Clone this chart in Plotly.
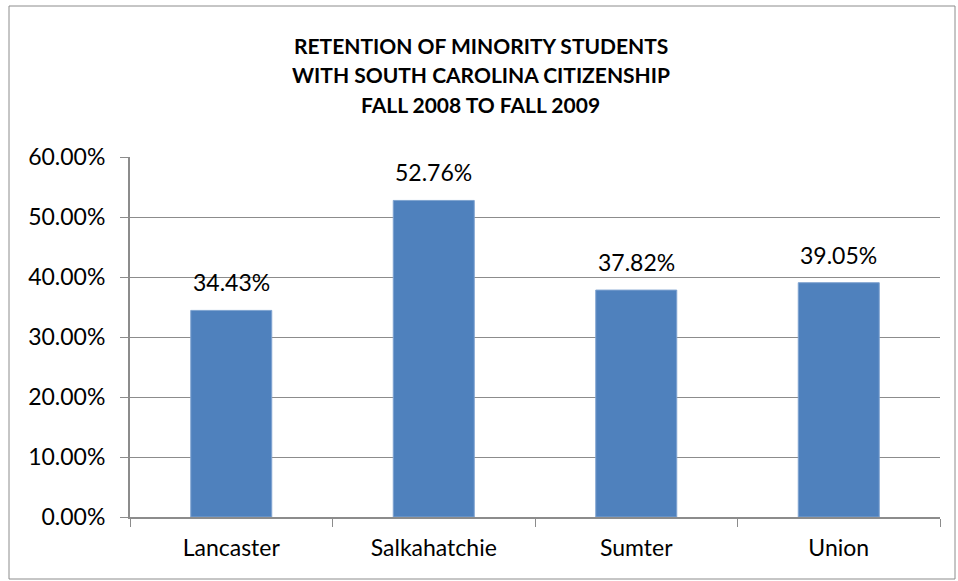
import plotly.graph_objects as go

campuses = ["Lancaster", "Salkahatchie", "Sumter", "Union"]
retention = [0.3443, 0.5276, 0.3782, 0.3905]
y_ticks = [0, 0.1, 0.2, 0.3, 0.4, 0.5, 0.6]

title_lines = [
    "RETENTION OF MINORITY STUDENTS",
    "WITH SOUTH CAROLINA CITIZENSHIP",
    "FALL 2008 TO FALL 2009",
]

font_name = "Lato, Liberation Sans, sans-serif"
grey = "#8C8C8C"

fig = go.Figure(
    go.Bar(
        x=campuses,
        y=retention,
        marker=dict(color="#4F81BD", line=dict(color="#7FA3D0", width=1)),
    )
)

fig.update_layout(
    width=958,
    height=581,
    paper_bgcolor="white",
    plot_bgcolor="white",
    margin=dict(l=130, r=18, t=157, b=64),
    bargap=0.6,
    showlegend=False,
    font=dict(family=font_name, color="#000000"),
)

# data labels above the bars
for name, val in zip(campuses, retention):
    fig.add_annotation(
        x=name,
        y=val,
        text=f"{val:.2%}",
        yanchor="bottom",
        yshift=12,
        showarrow=False,
        font=dict(size=23, color="#000000"),
    )

# title lines, one annotation each
for i, line in enumerate(title_lines):
    fig.add_annotation(
        text=f"<b>{line}</b>",
        xref="paper",
        yref="paper",
        x=0.433,
        y=(517 - 45 - 29.5 * i) / 360,
        xanchor="center",
        yanchor="middle",
        showarrow=False,
        font=dict(size=21, color="#000000", family=font_name),
    )

fig.update_yaxes(
    range=[0, 0.6],
    tickvals=y_ticks,
    tickformat=".2%",
    showgrid=True,
    gridcolor=grey,
    gridwidth=1,
    showline=True,
    linecolor=grey,
    linewidth=2,
    ticks="outside",
    ticklen=8,
    tickcolor=grey,
    tickfont=dict(size=23),
    ticklabelstandoff=10,
    zeroline=False,
)

fig.update_xaxes(
    showline=True,
    linecolor=grey,
    linewidth=2,
    ticks="outside",
    tickson="boundaries",
    ticklen=8,
    tickcolor=grey,
    tickfont=dict(size=23),
    ticklabelstandoff=9,
)

# outer chart border
fig.add_shape(
    type="rect",
    xref="paper",
    yref="paper",
    x0=-121 / 810,
    x1=825 / 810,
    y0=-62 / 360,
    y1=511 / 360,
    line=dict(color=grey, width=1),
    layer="below",
)

fig.write_html(
    "out.html",
    config={"displayModeBar": False},
    post_script="document.body.style.margin='0';",
)
